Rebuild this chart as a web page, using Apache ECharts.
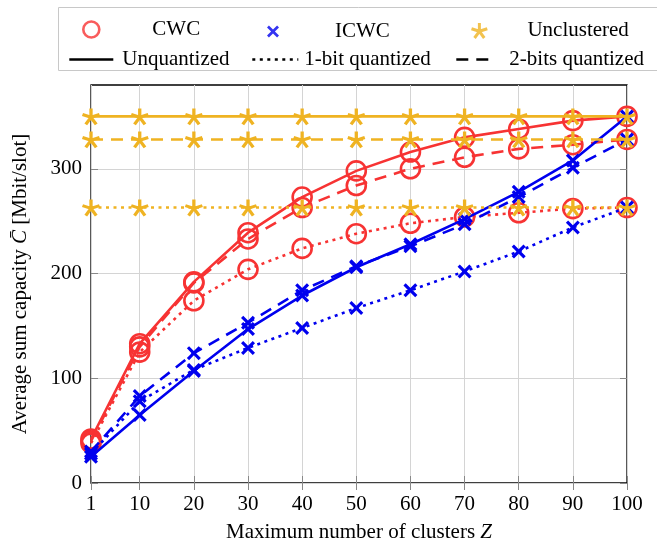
<!DOCTYPE html>
<html>
<head>
<meta charset="utf-8">
<script src="https://cdn.jsdelivr.net/npm/echarts@6/dist/echarts.min.js"></script>
<style>
  html, body { margin: 0; padding: 0; background: #fff; }
  #chart { width: 657px; height: 548px; }
</style>
</head>
<body>
<div id="chart"></div>
<script>
// Maximum number of clusters Z
const clusters = [1, 10, 20, 30, 40, 50, 60, 70, 80, 90, 100];
const xTicks = [1, 10, 20, 30, 40, 50, 60, 70, 80, 90, 100];
const yTicks = [0, 100, 200, 300];

// Average sum capacity [Mbit/slot]
const cwcUnquantized = [42, 133, 192, 239, 273, 298, 316, 330, 338, 346, 350];
const cwc1bit        = [38, 125, 174, 204, 224, 238, 248, 254, 258, 262, 263];
const cwc2bit        = [40, 130, 191, 233, 263, 284, 300, 311, 319, 323, 328];

const icwcUnquantized = [25, 65, 107, 147, 179, 206, 228, 252, 278, 308, 350];
const icwc1bit        = [28, 78, 108, 129, 148, 167, 184, 202, 221, 244, 263];
const icwc2bit        = [30, 83, 124, 153, 184, 207, 226, 247, 273, 301, 328];

const unclUnquantized = [350, 350, 350, 350, 350, 350, 350, 350, 350, 350, 350];
const uncl1bit        = [263, 263, 263, 263, 263, 263, 263, 263, 263, 263, 263];
const uncl2bit        = [328, 328, 328, 328, 328, 328, 328, 328, 328, 328, 328];

const RED = '#f73333';
const BLUE = '#0000ee';
const ORANGE = '#efb322';
const FONT = '"Liberation Serif", "DejaVu Serif", serif';

const CROSS = 'path://M0,1.6L1.6,0L5,3.4L8.4,0L10,1.6L6.6,5L10,8.4L8.4,10L5,6.6L1.6,10L0,8.4L3.4,5Z';
const STAR = 'path://M50,50L50,0M50,50L97.6,34.5M50,50L79.4,90.5M50,50L20.6,90.5M50,50L2.4,34.5';

const DOTTED = [3, 4.5];
const DASHED = [12, 8];

function pairs(ys) { return clusters.map((x, i) => [x, ys[i]]); }

const markerStyles = {
  cwc:  { symbol: 'circle', symbolSize: 19, itemStyle: { color: 'rgba(0,0,0,0)', borderColor: RED, borderWidth: 2.6 } },
  icwc: { symbol: CROSS, symbolSize: 14, itemStyle: { color: BLUE, borderWidth: 0 } },
  uncl: { symbol: STAR, symbolSize: [17, 16], itemStyle: { color: ORANGE, borderColor: ORANGE, borderWidth: 3.2 } }
};
const colors = { cwc: RED, icwc: BLUE, uncl: ORANGE };

function curve(name, group, ys, type, z) {
  const m = markerStyles[group];
  return {
    name: name,
    type: 'line',
    data: pairs(ys),
    symbol: m.symbol,
    symbolSize: m.symbolSize,
    showAllSymbol: true,
    itemStyle: m.itemStyle,
    lineStyle: { color: colors[group], width: 2.6, type: type, cap: 'butt' },
    emphasis: { disabled: true },
    animation: false,
    z: z
  };
}

const series = [
  curve('CWC unquantized', 'cwc', cwcUnquantized, 'solid', 2),
  curve('CWC 1-bit', 'cwc', cwc1bit, DOTTED, 2),
  curve('CWC 2-bits', 'cwc', cwc2bit, DASHED, 2),
  curve('ICWC unquantized', 'icwc', icwcUnquantized, 'solid', 3),
  curve('ICWC 1-bit', 'icwc', icwc1bit, DOTTED, 3),
  curve('ICWC 2-bits', 'icwc', icwc2bit, DASHED, 3),
  curve('Unclustered unquantized', 'uncl', unclUnquantized, 'solid', 4),
  curve('Unclustered 1-bit', 'uncl', uncl1bit, DOTTED, 4),
  curve('Unclustered 2-bits', 'uncl', uncl2bit, DASHED, 4),
  // legend entries: marker kinds
  { name: 'CWC', type: 'scatter', data: [], symbol: 'circle', itemStyle: markerStyles.cwc.itemStyle },
  { name: 'ICWC', type: 'scatter', data: [], symbol: CROSS, itemStyle: markerStyles.icwc.itemStyle },
  { name: 'Unclustered', type: 'scatter', data: [], symbol: STAR, itemStyle: markerStyles.uncl.itemStyle },
  // legend entries: line kinds
  { name: 'Unquantized', type: 'line', data: [], symbol: 'none', lineStyle: { color: '#000', width: 2.6, type: 'solid' }, itemStyle: { color: '#000' } },
  { name: '1-bit quantized', type: 'line', data: [], symbol: 'none', lineStyle: { color: '#000', width: 2.6, type: DOTTED, cap: 'butt' }, itemStyle: { color: '#000' } },
  { name: '2-bits quantized', type: 'line', data: [], symbol: 'none', lineStyle: { color: '#000', width: 2.6, type: DASHED, cap: 'butt' }, itemStyle: { color: '#000' } }
];

function legendItem(name, left, top, w, h, pad, extra) {
  return Object.assign({
    data: [name],
    left: left,
    top: top,
    itemWidth: w,
    itemHeight: h,
    selectedMode: false,
    padding: 0,
    textStyle: { fontFamily: FONT, fontSize: 21, color: '#000', padding: [0, 0, 0, pad] }
  }, extra || {});
}

// line-kind entries show only the stroke pattern, no point symbol
const lineOnly = { lineStyle: { width: 2.6 }, itemStyle: { color: 'rgba(0,0,0,0)', borderWidth: 0, opacity: 0 } };

const legends = [
  legendItem('CWC', 82, 19, 16, 16, 48, { itemStyle: { borderWidth: 2.6 } }),
  legendItem('ICWC', 267, 21, 12, 12, 51, {}),
  legendItem('Unclustered', 470, 20, 16, 15, 35, { itemStyle: { borderWidth: 3 } }),
  legendItem('Unquantized', 68, 49, 44, 14, 4, lineOnly),
  legendItem('1-bit quantized', 251, 49, 46, 14, 1, lineOnly),
  legendItem('2-bits quantized', 455, 49, 40, 14, 8, lineOnly)
];

const tickStyle = { show: true, inside: true, length: 7, lineStyle: { color: '#888', width: 1 } };

const option = {
  animation: false,
  textStyle: { fontFamily: FONT, color: '#000' },
  legend: legends,
  graphic: [{
    type: 'rect',
    shape: { x: 58.5, y: 7.5, width: 620, height: 63 },
    style: { fill: 'none', stroke: '#c8c8c8', lineWidth: 1 },
    silent: true
  }],
  grid: {
    left: 91, right: 30, top: 85, bottom: 63,
    show: true, borderColor: '#000', borderWidth: 1.3, backgroundColor: '#fff'
  },
  xAxis: [{
    type: 'value',
    min: 1, max: 100,
    name: 'Maximum number of clusters {i|Z}',
    nameLocation: 'middle',
    nameGap: 39,
    nameTextStyle: { fontFamily: FONT, fontSize: 21, color: '#000', rich: { i: { fontStyle: 'italic', fontFamily: FONT, fontSize: 21 } } },
    axisLine: { show: false },
    axisTick: Object.assign({ customValues: xTicks }, tickStyle),
    axisLabel: { customValues: xTicks, fontFamily: FONT, fontSize: 21, color: '#000', margin: 11 },
    splitLine: { show: true, lineStyle: { color: '#d4d4d4', width: 1 } }
  }, {
    type: 'value',
    position: 'top',
    min: 1, max: 100,
    axisLine: { show: false },
    axisTick: Object.assign({ customValues: xTicks }, tickStyle),
    axisLabel: { show: false },
    splitLine: { show: false }
  }],
  yAxis: [{
    type: 'value',
    min: 0, max: 380,
    name: 'Average sum capacity {i|C\u0304} [Mbit/slot]',
    nameLocation: 'middle',
    nameGap: 60,
    nameTextStyle: { fontFamily: FONT, fontSize: 21, color: '#000', rich: { i: { fontStyle: 'italic', fontFamily: FONT, fontSize: 21 } } },
    axisLine: { show: false },
    axisTick: Object.assign({ customValues: yTicks }, tickStyle),
    axisLabel: { customValues: yTicks, fontFamily: FONT, fontSize: 21, color: '#000', margin: 9 },
    splitLine: { show: true, lineStyle: { color: '#d4d4d4', width: 1 } }
  }, {
    type: 'value',
    position: 'right',
    min: 0, max: 380,
    axisLine: { show: false },
    axisTick: Object.assign({ customValues: yTicks }, tickStyle),
    axisLabel: { show: false },
    splitLine: { show: false }
  }],
  series: series
};

const chart = echarts.init(document.getElementById('chart'), null, { renderer: 'canvas' });
chart.setOption(option);
</script>
</body>
</html>
